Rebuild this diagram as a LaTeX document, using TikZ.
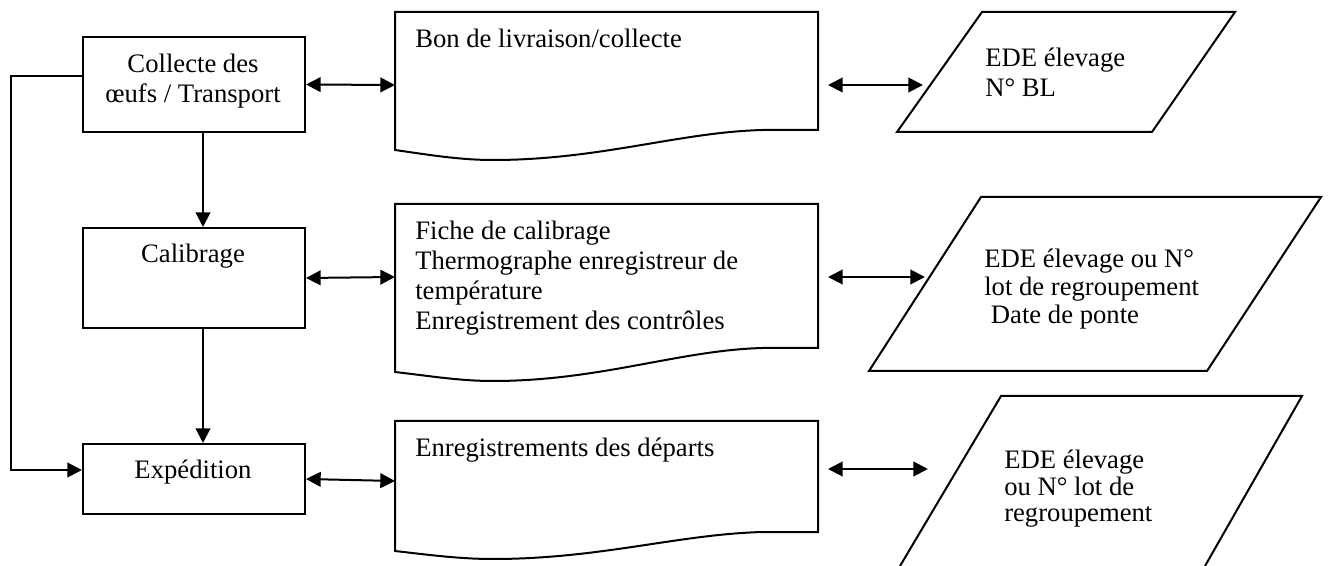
\documentclass[tikz,border=0pt]{standalone}
\usepackage{fontspec}
\setmainfont{Liberation Serif}
\usetikzlibrary{arrows.meta}
\begin{document}
\begin{tikzpicture}[x=0.75pt,y=-0.75pt,
  every node/.style={font=\fontsize{20}{22.5}\selectfont},
  ln/.style={line width=1.5pt, line join=miter},
  arrowtip/.style={ln,-{Triangle[length=11pt,width=11pt]}},
  dbl/.style={ln,{Triangle[length=11pt,width=11pt]}-{Triangle[length=11pt,width=11pt]}},
  procbox/.style={draw,ln,rectangle,minimum width=166.5pt,inner sep=0pt},
  ctext/.style={inner sep=0pt,anchor=base},
  ltext/.style={inner sep=0pt,anchor=base west},
  ptext/.style={inner sep=0pt,anchor=base west},
]
\useasboundingbox (0,0) rectangle (1328,566);

% process boxes
\node[procbox, minimum height=71.25pt] (b1) at (194,84.5) {};
\node[procbox, minimum height=75pt] (b2) at (194,278) {};
\node[procbox, minimum height=52.5pt] (b3) at (194,479) {};
\node[ctext] (t1) at (193,73) {\begin{tabular}[t]{@{}c@{}}Collecte des\\œufs / Transport\end{tabular}};
\node[ctext] (t2) at (193,263) {Calibrage};
\node[ctext] (t3) at (193,479) {Expédition};

% document shapes
\draw[ln] (395,12) -- (818,12) -- (818,130) -- (763,130)
  .. controls (680,132) and (600,160) .. (493,160)
  .. controls (460,160) and (430,155) .. (395,150) -- cycle;
\draw[ln] (395,204) -- (818,204) -- (818,348) -- (763,348)
  .. controls (680,350) and (600,381) .. (493,381)
  .. controls (460,381) and (430,376) .. (395,372) -- cycle;
\draw[ln] (395,421) -- (818,421) -- (818,532) -- (763,532)
  .. controls (680,534) and (600,559) .. (493,559)
  .. controls (460,559) and (430,555) .. (395,551) -- cycle;
\coordinate (d1w) at (395,85);
\coordinate (d2w) at (395,277);
\coordinate (d3w) at (395,481);
\coordinate (d1e) at (828,85);
\coordinate (d2e) at (828,277);
\coordinate (d3e) at (828,469);
\node[ltext] (dt1) at (415,48) {Bon de livraison/collecte};
\node[ltext] (dt2) at (415,240) {\begin{tabular}[t]{@{}l@{}}Fiche de calibrage\\Thermographe enregistreur de\\température\\Enregistrement des contrôles\end{tabular}};
\node[ltext] (dt3) at (415,456) {Enregistrements des départs};

% parallelograms
\draw[ln] (982,12) -- (1235,12) -- (1152,132) -- (897,132) -- cycle;
\draw[ln] (981,197) -- (1321,197) -- (1207,371) -- (869,371) -- cycle;
\draw[ln] (900,566) -- (1001,396) -- (1302,396) -- (1205,566);
\coordinate (p1w) at (923,85);
\coordinate (p2w) at (925,277);
\coordinate (p3w) at (928,469);
\node[ptext,font=\fontsize{20}{22.5}\selectfont] (pt1) at (985,67) {\begin{tabular}[t]{@{}l@{}}EDE élevage\\N° BL\end{tabular}};
\node[ptext,font=\fontsize{20}{21}\selectfont] (pt2) at (984,268) {\begin{tabular}[t]{@{}l@{}}EDE élevage ou N°\\lot de regroupement\\\hspace{0.25em}Date de ponte\end{tabular}};
\node[ptext,font=\fontsize{20}{19.5}\selectfont] (pt3) at (1004,469) {\begin{tabular}[t]{@{}l@{}}EDE élevage\\ou N° lot de\\regroupement\end{tabular}};

% connectors
\coordinate (vx) at (203,0);
\draw[arrowtip] (b1.south -| vx) -- (b2.north -| vx);
\draw[arrowtip] (b2.south -| vx) -- (b3.north -| vx);
\draw[arrowtip] ([yshift=6.4pt]b1.west) -- ++(-71,0) |- ([yshift=6.75pt]b3.west);
\draw[dbl] (b1.east) -- (d1w);
\draw[dbl] (b2.east) -- (d2w);
\draw[dbl] (b3.east) -- (d3w);
\draw[dbl] (d1e) -- (p1w);
\draw[dbl] (d2e) -- (p2w);
\draw[dbl] (d3e) -- (p3w);
\end{tikzpicture}
\end{document}
